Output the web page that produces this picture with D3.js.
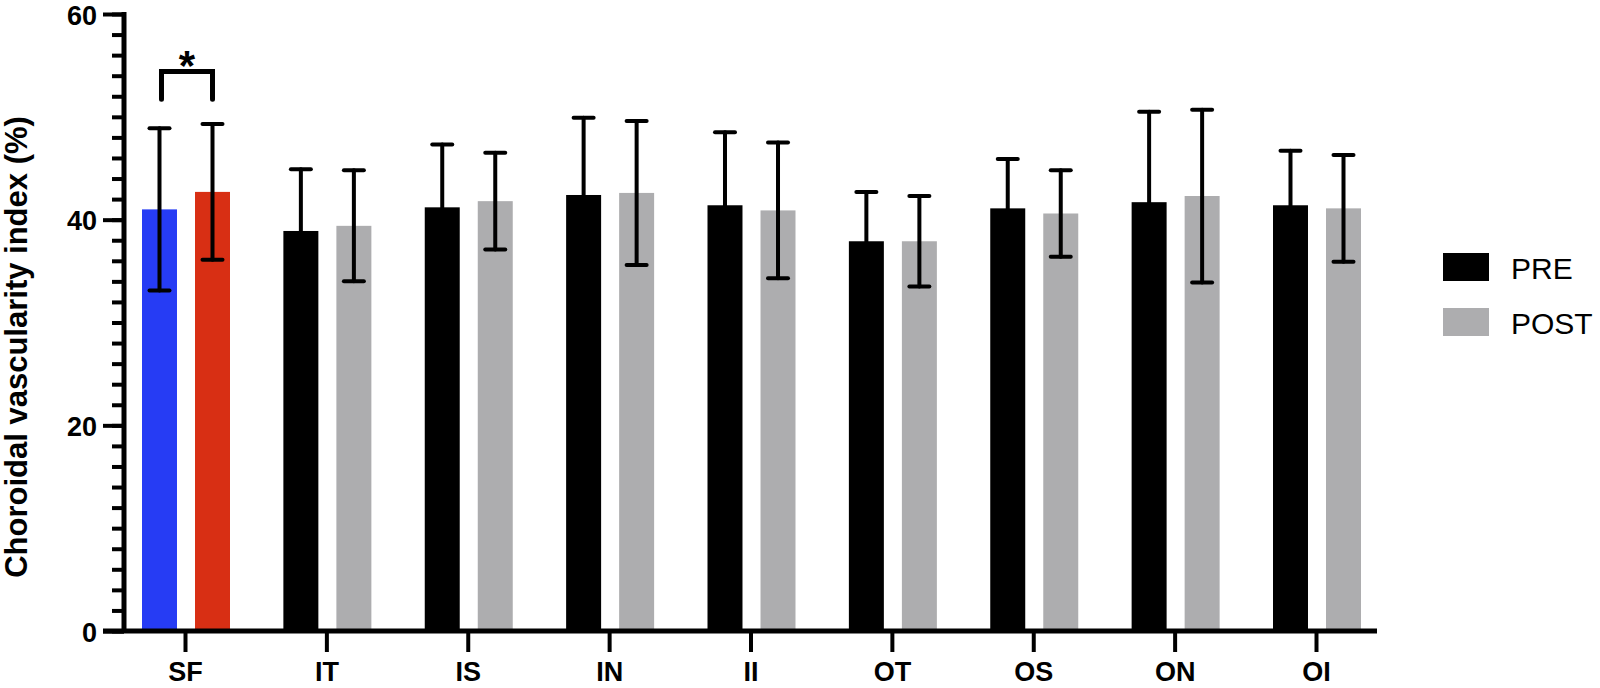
<!DOCTYPE html>
<html>
<head>
<meta charset="utf-8">
<script src="https://cdn.jsdelivr.net/npm/d3@7"></script>
<style>
  body { margin: 0; background: #fff; }
  svg { font-family: "Liberation Sans", Arial, sans-serif; }
</style>
</head>
<body>
<div id="chart"></div>
<script>
// values (mean and SD, %)
var categories = ["SF", "IT", "IS", "IN", "II", "OT", "OS", "ON", "OI"];
var seriesNames = ["PRE", "POST"];
var preMean  = [41.0, 38.9, 41.2, 42.4, 41.4, 37.9, 41.1, 41.7, 41.4];
var preSD    = [7.9, 6.0, 6.1, 7.5, 7.1, 4.8, 4.8, 8.8, 5.3];
var postMean = [42.7, 39.4, 41.8, 42.6, 40.9, 37.9, 40.6, 42.3, 41.1];
var postSD   = [6.6, 5.4, 4.7, 7.0, 6.6, 4.4, 4.2, 8.4, 5.2];
var yMajor = [0, 20, 40, 60];
var yMinor = d3.range(0, 61, 2);
// significance bracket on SF (top of bracket, bottom of legs)
var sigCategory = "SF";
var sigLevels = [54.4, 51.7];

var w = 1600, h = 688;

var svg = d3.select("#chart").append("svg")
    .attr("width", w)
    .attr("height", h);

var y = d3.scaleLinear().domain([0, 60]).range([631, 14]);
var x = d3.scalePoint().domain(categories).range([185, 1316]);
var xSub = d3.scaleBand().domain(seriesNames).range([-43, 45]).paddingInner(0.34);

var colors = {PRE: "#000000", POST: "#adadaf"};
var sfColors = {PRE: "#263cf4", POST: "#d82f14"};

// build rows for bars
var rows = [];
categories.forEach(function(c, i) {
    rows.push({cat: c, s: "PRE", m: preMean[i], sd: preSD[i]});
    rows.push({cat: c, s: "POST", m: postMean[i], sd: postSD[i]});
});
function fillOf(d) {
    if (d.cat == "SF") return sfColors[d.s];
    return colors[d.s];
}

// bars
svg.selectAll("rect.bar")
    .data(rows)
    .enter().append("rect")
    .attr("class", "bar")
    .attr("x", function(d) { return x(d.cat) + xSub(d.s); })
    .attr("width", xSub.bandwidth())
    .attr("y", function(d) { return y(d.m); })
    .attr("height", function(d) { return y(0) - y(d.m); })
    .style("fill", fillOf);

// error bars
var eb = svg.selectAll("g.err")
    .data(rows)
    .enter().append("g")
    .attr("class", "err")
    .attr("transform", function(d) { return "translate(" + (x(d.cat) + xSub(d.s) + xSub.bandwidth() / 2) + ",0)"; })
    .style("stroke", "#000")
    .style("stroke-width", 4)
    .style("stroke-linecap", "round");
eb.append("line")
    .attr("y1", function(d) { return y(d.m - d.sd); })
    .attr("y2", function(d) { return y(d.m + d.sd); });
eb.append("line")
    .attr("x1", -10).attr("x2", 10)
    .attr("y1", function(d) { return y(d.m + d.sd); })
    .attr("y2", function(d) { return y(d.m + d.sd); });
eb.append("line")
    .attr("x1", -10).attr("x2", 10)
    .attr("y1", function(d) { return y(d.m - d.sd); })
    .attr("y2", function(d) { return y(d.m - d.sd); });

// y axis: minor then major ticks
var yAxisMinor = d3.axisLeft(y).tickValues(yMinor).tickSize(12).tickSizeOuter(0).tickFormat("");
var yAxisMajor = d3.axisLeft(y).tickValues(yMajor).tickSize(21).tickSizeOuter(0).tickPadding(6);

svg.append("g")
    .attr("transform", "translate(124,0)")
    .call(yAxisMinor)
    .call(function(g) { g.select(".domain").remove(); })
    .selectAll("line").style("stroke", "#000").style("stroke-width", 4);

var ya = svg.append("g")
    .attr("transform", "translate(124,0)")
    .call(yAxisMajor)
    .call(function(g) { g.select(".domain").remove(); });
ya.selectAll("line").style("stroke", "#000").style("stroke-width", 4);
ya.selectAll("text")
    .attr("dy", "0.38em")
    .style("font-size", "27px")
    .style("font-weight", "bold")
    .style("fill", "#000")
    .style("font-family", "'Liberation Sans', Arial, sans-serif");

svg.append("line")
    .attr("x1", 124).attr("x2", 124)
    .attr("y1", y(0) + 2).attr("y2", y(60) - 2)
    .style("stroke", "#000").style("stroke-width", 5);

// x axis
var xa = svg.append("g")
    .attr("transform", "translate(0," + y(0) + ")")
    .call(d3.axisBottom(x).tickSize(21).tickSizeOuter(0).tickPadding(10))
    .call(function(g) { g.select(".domain").remove(); });
xa.selectAll("line").style("stroke", "#000").style("stroke-width", 4);
xa.selectAll("text")
    .style("font-size", "27px")
    .style("font-weight", "bold")
    .style("fill", "#000")
    .style("font-family", "'Liberation Sans', Arial, sans-serif");

svg.append("line")
    .attr("x1", 103).attr("x2", 1377)
    .attr("y1", y(0)).attr("y2", y(0))
    .style("stroke", "#000").style("stroke-width", 5);

// y axis title
svg.append("text")
    .attr("transform", "translate(27," + 347 + ") rotate(-90)")
    .style("text-anchor", "middle")
    .style("font-size", "31px")
    .style("font-weight", "bold")
    .text("Choroidal vascularity index (%)");

// significance bracket
var bx1 = x(sigCategory) + xSub("PRE") + xSub.bandwidth() / 2 + 2;
var bx2 = x(sigCategory) + xSub("POST") + xSub.bandwidth() / 2;
svg.append("path")
    .attr("d", "M" + bx1 + "," + y(sigLevels[1]) + "V" + y(sigLevels[0]) + "H" + bx2 + "V" + y(sigLevels[1]))
    .style("fill", "none")
    .style("stroke", "#000")
    .style("stroke-width", 5)
    .style("stroke-linecap", "round")
    .style("stroke-linejoin", "miter");
svg.append("text")
    .attr("x", (bx1 + bx2) / 2)
    .attr("y", 80)
    .style("text-anchor", "middle")
    .style("font-size", "42px")
    .style("font-weight", "bold")
    .text("*");

// legend
var legend = svg.selectAll(".legend")
    .data(seriesNames)
    .enter().append("g")
    .attr("class", "legend")
    .attr("transform", function(d, i) { return "translate(1443," + (253 + i * 55) + ")"; });
legend.append("rect")
    .attr("width", 46)
    .attr("height", 28)
    .style("fill", function(d) { return colors[d]; });
legend.append("text")
    .attr("x", 68)
    .attr("y", 26)
    .style("font-size", "30px")
    .text(function(d) { return d; });
</script>
</body>
</html>
